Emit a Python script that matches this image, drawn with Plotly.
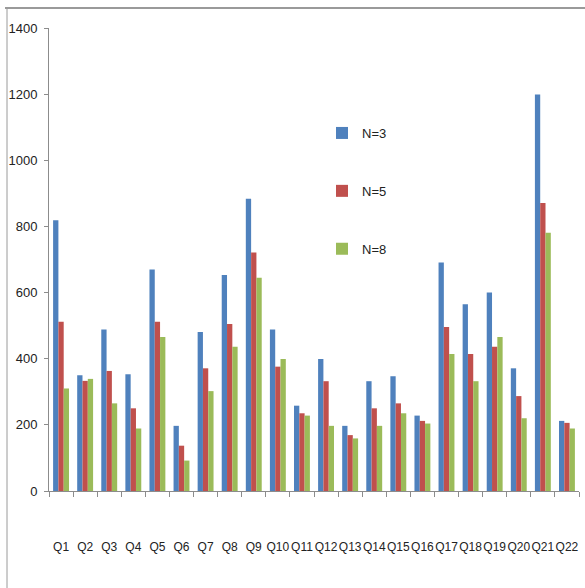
import plotly.graph_objects as go

categories = ["Q1", "Q2", "Q3", "Q4", "Q5", "Q6", "Q7", "Q8", "Q9", "Q10", "Q11",
              "Q12", "Q13", "Q14", "Q15", "Q16", "Q17", "Q18", "Q19", "Q20", "Q21", "Q22"]
n3 = [819, 350, 488, 353, 670, 197, 481, 653, 884, 488, 258,
      399, 197, 332, 347, 228, 691, 565, 600, 371, 1199, 212]
n5 = [512, 333, 363, 250, 512, 137, 371, 505, 721, 376, 235,
      332, 169, 250, 265, 212, 496, 414, 436, 287, 871, 206]
n8 = [310, 339, 265, 189, 466, 92, 302, 436, 645, 399, 228,
      197, 159, 197, 235, 204, 414, 332, 466, 220, 781, 189]
series_names = ["N=3", "N=5", "N=8"]
colors = ["#4F81BD", "#C0504D", "#9BBB59"]
y_ticks = [0, 200, 400, 600, 800, 1000, 1200, 1400]

FONT = "Liberation Sans, Arial, sans-serif"

fig = go.Figure()
for name, vals, col in zip(series_names, [n3, n5, n8], colors):
    fig.add_trace(go.Bar(x=categories, y=vals, name=name, marker_color=col,
                         marker_line_width=0, legendgroup=name))

W, H = 585, 588
L, R, T, B = 49, 6, 28, 97
pw = W - L - R
ph = H - T - B

fig.update_layout(
    width=W, height=H,
    margin=dict(l=L, r=R, t=T, b=B, pad=0, autoexpand=False),
    paper_bgcolor="white", plot_bgcolor="white",
    barmode="group", bargap=0.34, bargroupgap=0,
    font=dict(family=FONT, size=13, color="#222222"),
    showlegend=True,
    legend=dict(x=(322 - L) / pw, y=(491 - 118) / ph, xanchor="left", yanchor="top",
                bgcolor="rgba(0,0,0,0)", tracegroupgap=38, itemwidth=30,
                font=dict(family=FONT, size=13, color="#222222")),
    xaxis=dict(showline=True, linecolor="#8c8c8c", linewidth=1,
               ticks="outside", tickson="boundaries", ticklen=5, tickcolor="#8c8c8c",
               tickangle=0, ticklabelstandoff=45,
               tickfont=dict(family=FONT, size=12, color="#222222"),
               showgrid=False),
    yaxis=dict(range=[0, 1400], tickvals=y_ticks, showline=True, linecolor="#8c8c8c",
               linewidth=1, ticks="outside", ticklen=4, tickcolor="#8c8c8c",
               ticklabelstandoff=4,
               tickfont=dict(family=FONT, size=13, color="#222222"),
               showgrid=False, zeroline=False),
    shapes=[
        dict(type="line", xref="paper", yref="paper",
             x0=(5 - L) / pw, x1=(W - L) / pw, y0=(491 - 8) / ph, y1=(491 - 8) / ph,
             line=dict(color="#9a9a9a", width=2)),
        dict(type="line", xref="paper", yref="paper",
             x0=(7 - L) / pw, x1=(7 - L) / pw, y0=(491 - 8) / ph, y1=(491 - H) / ph,
             line=dict(color="#9a9a9a", width=1)),
    ],
)

fig.write_html("out.html", config={"displayModeBar": False},
               post_script="document.body.style.margin='0';document.body.style.overflow='hidden';")
